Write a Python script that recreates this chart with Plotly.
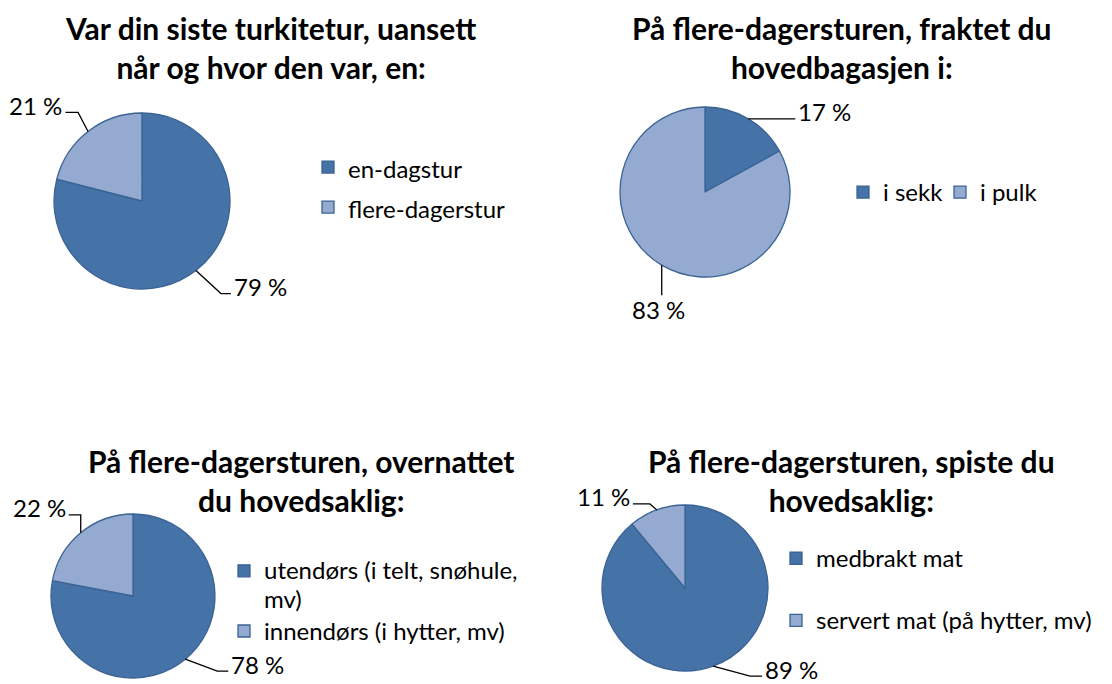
import math
import textwrap
import plotly.graph_objects as go

# ---------------- data ----------------
TITLE_1 = ["Var din siste turkitetur, uansett", "når og hvor den var, en:"]
LABELS_1 = ["en-dagstur", "flere-dagerstur"]
VALUES_1 = [79, 21]

TITLE_2 = ["På flere-dagersturen, fraktet du", "hovedbagasjen i:"]
LABELS_2 = ["i sekk", "i pulk"]
VALUES_2 = [17, 83]

TITLE_3 = ["På flere-dagersturen, overnattet", "du hovedsaklig:"]
LABELS_3 = ["utendørs (i telt, snøhule, mv)", "innendørs (i hytter, mv)"]
VALUES_3 = [78, 22]

TITLE_4 = ["På flere-dagersturen, spiste du", "hovedsaklig:"]
LABELS_4 = ["medbrakt mat", "servert mat (på hytter, mv)"]
VALUES_4 = [89, 11]

# ---------------- style / layout ----------------
PAGE = 8                      # default body margin of the html page
W, H = 1112 - PAGE, 684 - PAGE
COLORS = ["#4572A7", "#94AAD1"]
EDGE = "#3B6394"
FONT = "Lato, 'Open Sans', sans-serif"
TXT = 24          # visible text size
TITLE_TXT = 30    # title size

PIES = [
    dict(title=TITLE_1, labels=LABELS_1, values=VALUES_1,
         center=(142, 201), r=88, title_xy=(270, 47.5),
         legend=dict(x=308, y=142, orientation="v", fs=28.5), wrap=None, spacer=False,
         leaders=[(25, 23, 10, "side"), (-10, -19, -12.6, "side")]),
    dict(title=TITLE_2, labels=LABELS_2, values=VALUES_2,
         center=(705, 192), r=85, title_xy=(842, 47.5),
         legend=dict(x=843, y=170, orientation="h", fs=24, entrywidth=52), wrap=None, spacer=False,
         leaders=[(0, 0, 47, "side"), (0, 30, 0, "below")]),
    dict(title=TITLE_3, labels=LABELS_3, values=VALUES_3,
         center=(133, 596), r=82, title_xy=(301, 480.5),
         legend=dict(x=224, y=550, orientation="v", fs=22), wrap=26, spacer=False,
         leaders=[(32, 12, 11, "side"), (0, -18, -12, "side")]),
    dict(title=TITLE_4, labels=LABELS_4, values=VALUES_4,
         center=(685, 588), r=83, title_xy=(851, 480.5),
         legend=dict(x=776, y=537, orientation="v", fs=22.7), wrap=None, spacer=True,
         leaders=[(37, 10, 12, "side"), (-7, -6, -17, "side")]),
]


def px(x):
    return (x - PAGE) / W


def py(y):
    return 1 - (y - PAGE) / H


def span(s, size):
    return f"<span style='font-size:{size}px'>{s}</span>"


fig = go.Figure()
annotations = []
shapes = []
legends = {}

for i, p in enumerate(PIES):
    cx, cy = p["center"]
    r = p["r"]
    lname = "legend" if i == 0 else f"legend{i + 1}"

    # legend labels (wrapped, visible size via span)
    disp = []
    for j, lab in enumerate(p["labels"]):
        lines = textwrap.wrap(lab, p["wrap"]) if p["wrap"] else [lab]
        txt = "<br>".join(span(l, TXT) for l in lines)
        if p["spacer"] and j == 0:
            txt += "<br>\u00a0"
        disp.append(txt)

    fig.add_trace(go.Pie(
        labels=disp,
        values=p["values"],
        sort=False,
        direction="clockwise",
        rotation=0,
        textinfo="none",
        hovertemplate="%{value} %<extra></extra>",
        marker=dict(colors=COLORS, line=dict(color=EDGE, width=1.3)),
        domain=dict(x=[px(cx - r), px(cx + r)], y=[py(cy + r), py(cy - r)]),
        legend=lname,
        showlegend=True,
    ))

    lg = p["legend"]
    ldict = dict(
        x=px(lg["x"]), y=py(lg["y"]), xanchor="left", yanchor="top",
        orientation=lg["orientation"], valign="top",
        bgcolor="rgba(0,0,0,0)", borderwidth=0,
        font=dict(family=FONT, size=lg["fs"], color="#000000"),
    )
    if "entrywidth" in lg:
        ldict["entrywidth"] = lg["entrywidth"]
        ldict["entrywidthmode"] = "pixels"
    legends[lname] = ldict

    # title
    annotations.append(dict(
        x=px(p["title_xy"][0]), y=py(p["title_xy"][1]), xref="paper", yref="paper",
        xanchor="center", yanchor="middle", showarrow=False,
        text="<br>".join(p["title"]),
        font=dict(family=FONT, size=TITLE_TXT, color="#000000", weight="bold"),
    ))

    # data labels with leader lines, anchored at each slice's mid-angle
    total = sum(p["values"])
    cum = 0
    for v, (dx, dy, tail, mode) in zip(p["values"], p["leaders"]):
        theta = 2 * math.pi * (cum + v / 2) / total
        cum += v
        ax = cx + r * math.sin(theta)
        ay = cy - r * math.cos(theta)
        ex, ey = ax + dx, ay + dy
        tx = ex + tail
        shapes.append(dict(
            type="path", xref="paper", yref="paper",
            path=f"M {px(ax)},{py(ay)} L {px(ex)},{py(ey)} L {px(tx)},{py(ey)}",
            line=dict(color="#000000", width=1.3),
        ))
        if mode == "side":
            xa = "left" if tail >= 0 else "right"
            lx = tx + (2 if tail >= 0 else -2)
            ly = ey - 7
        else:
            xa = "center"
            lx = ex - 3
            ly = ey + 14
        annotations.append(dict(
            x=px(lx), y=py(ly), xref="paper", yref="paper",
            xanchor=xa, yanchor="middle", showarrow=False, borderpad=0,
            text=f"{v} %",
            font=dict(family=FONT, size=TXT, color="#000000"),
        ))

fig.update_layout(
    width=W, height=H,
    margin=dict(l=0, r=0, t=0, b=0),
    paper_bgcolor="#FFFFFF", plot_bgcolor="#FFFFFF",
    font=dict(family=FONT, color="#000000"),
    annotations=annotations,
    shapes=shapes,
    **legends,
)

fig.write_html("out.html")
